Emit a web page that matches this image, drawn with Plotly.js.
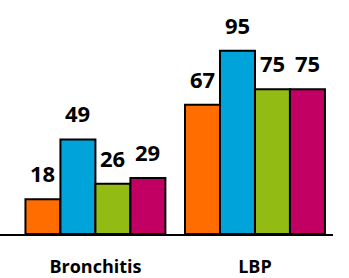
<!DOCTYPE html>
<html>
<head>
<meta charset="utf-8">
<script src="https://cdn.plot.ly/plotly-3.0.1.min.js"></script>
<style>html,body{margin:0;padding:0;background:#fff;}#chart{width:349px;height:278px;}</style>
</head>
<body>
<div id="chart"></div>
<script>
var categories = ['Bronchitis', 'LBP'];
var seriesA = [18, 67];
var seriesB = [49, 95];
var seriesC = [26, 75];
var seriesD = [29, 75];
var seriesColors = ['#FF6D00', '#00A3DA', '#92BC14', '#C20064'];
var allSeries = [seriesA, seriesB, seriesC, seriesD];

var bargap = 0.123;
var nSeries = allSeries.length;
var barW = (1 - bargap) / nSeries;
var xIdx = categories.map(function (c, i) { return i; });

var traces = allSeries.map(function (vals, s) {
  return {
    type: 'bar',
    x: xIdx,
    y: vals,
    marker: { color: seriesColors[s], line: { color: '#000', width: 2 } },
    hoverinfo: 'none'
  };
});

var annotations = [];
allSeries.forEach(function (vals, s) {
  vals.forEach(function (v, g) {
    annotations.push({
      x: g + (s - (nSeries - 1) / 2) * barW,
      y: v,
      xref: 'x', yref: 'y',
      text: String(v),
      showarrow: false,
      yanchor: 'bottom',
      yshift: 9,
      font: { family: 'Open Sans', size: 22, color: '#000', weight: 'bold' }
    });
  });
});

var layout = {
  width: 349, height: 278,
  margin: { l: 0, r: 16, t: 41, b: 44 },
  barmode: 'group',
  bargap: bargap,
  bargroupgap: 0,
  showlegend: false,
  paper_bgcolor: '#fff', plot_bgcolor: '#fff',
  xaxis: {
    range: [-0.598, 1.489],
    tickvals: xIdx,
    ticktext: categories,
    showline: true, linecolor: '#000', linewidth: 2,
    showgrid: false, zeroline: false,
    ticks: 'outside', ticklen: 15, tickcolor: 'rgba(0,0,0,0)',
    tickfont: { family: 'Open Sans', size: 18, color: '#000', weight: 'bold' }
  },
  yaxis: {
    range: [0, 100],
    visible: false, showgrid: false, zeroline: false
  },
  annotations: annotations
};

Plotly.newPlot('chart', traces, layout, { displayModeBar: false, staticPlot: true });
</script>
</body>
</html>
